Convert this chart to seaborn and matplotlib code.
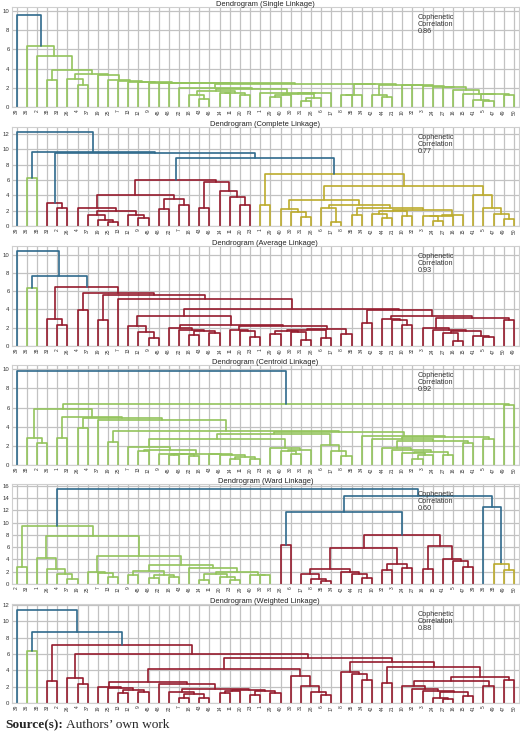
import numpy as np
import pandas as pd
import matplotlib
matplotlib.use("Agg")
import matplotlib.pyplot as plt
import seaborn as sns

titles = ["Dendrogram (Single Linkage)", "Dendrogram (Complete Linkage)",
          "Dendrogram (Average Linkage)", "Dendrogram (Centroid Linkage)",
          "Dendrogram (Ward Linkage)", "Dendrogram (Weighted Linkage)"]
coph = ["0.86", "0.77", "0.93", "0.92", "0.60", "0.88"]
ytick_max = [10, 12, 10, 10, 16, 12]
ylim_top = [10.4, 12.9, 10.95, 10.45, 16.3, 12.1]

# merge height between neighbouring leaves (left to right) for each dendrogram
gaps_single = [9.6, 6.3, 5.3, 2.8, 3.8, 2.9, 2.3, 3.4, 3.3, 2.8,
               2.7, 2.6, 2.55, 2.52, 2.5, 2.48, 2.0, 1.3, 0.85, 1.7,
               1.45, 1.5, 1.25, 1.85, 1.5, 1.0, 1.2, 1.4, 0.65, 0.9,
               1.5, 2.4, 1.25, 1.3, 2.35, 1.25, 1.0, 2.3, 2.3, 2.25,
               2.2, 2.1, 2.05, 1.75, 1.35, 0.7, 0.6, 1.35, 1.2]
gaps_complete = [12.2, 6.3, 9.6, 3.0, 2.3, 9.55, 2.3, 1.4, 0.8, 0.55,
                 2.0, 1.45, 1.0, 4.1, 2.2, 3.5, 2.8, 6.0, 2.4, 5.7,
                 4.5, 3.8, 2.8, 8.9, 2.8, 6.8, 2.2, 1.8, 1.2, 3.4,
                 2.3, 0.5, 2.7, 1.4, 2.4, 1.5, 1.0, 2.0, 1.3, 2.1,
                 1.3, 0.7, 1.35, 1.4, 5.2, 4.1, 2.3, 1.6, 0.85]
gaps_average = [10.4, 6.3, 7.7, 3.0, 2.3, 6.5, 3.9, 5.8, 2.8, 5.6,
                5.1, 2.2, 1.5, 0.85, 3.3, 2.0, 1.8, 1.2, 1.6, 1.4,
                2.3, 1.8, 1.6, 1.0, 2.2, 1.3, 1.6, 1.55, 0.65, 1.8,
                0.85, 1.9, 1.3, 4.1, 2.5, 3.9, 3.0, 2.8, 2.3, 3.3,
                2.0, 1.8, 1.4, 0.6, 1.6, 1.1, 1.0, 3.1, 2.8]
gaps_centroid = [9.8, 2.8, 2.3, 5.8, 2.8, 5.0, 3.9, 4.9, 4.7, 2.4,
                 3.6, 1.9, 1.5, 1.55, 1.15, 1.05, 1.1, 0.95, 1.2, 1.1,
                 1.05, 0.6, 0.85, 0.6, 2.7, 1.8, 1.5, 1.2, 1.6, 3.2,
                 2.1, 1.5, 0.9, 3.5, 3.0, 2.75, 1.8, 1.6, 1.3, 0.6,
                 1.05, 1.4, 1.0, 2.5, 2.3, 2.9, 2.7, 6.4, 6.3]
gaps_ward = [2.7, 9.5, 4.3, 2.5, 1.7, 0.8, 7.9, 2.0, 1.8, 1.2,
             4.5, 1.4, 2.2, 0.9, 1.5, 1.2, 3.1, 2.6, 0.6, 1.6,
             1.1, 0.6, 2.0, 1.5, 1.4, 15.5, 6.3, 11.8, 1.6, 0.8,
             0.5, 2.4, 1.9, 1.6, 0.9, 5.8, 2.3, 3.3, 2.6, 8.0,
             2.4, 6.2, 4.0, 3.7, 2.7, 14.4, 12.5, 3.2, 2.3]
gaps_weighted = [11.4, 6.3, 8.7, 2.7, 7.1, 3.0, 2.3, 6.0, 2.0, 1.8,
                 1.2, 1.6, 1.4, 2.6, 2.3, 1.3, 0.6, 1.1, 0.6, 1.7,
                 1.2, 1.5, 1.55, 1.0, 1.45, 1.2, 4.2, 3.3, 2.1, 1.4,
                 1.0, 5.5, 3.8, 3.5, 2.8, 5.0, 2.4, 4.35, 2.1, 1.7,
                 1.5, 0.6, 0.55, 1.3, 0.9, 2.7, 2.1, 3.15, 2.8]

labels_single = "39 36 2 38 33 26 4 37 19 25 7 13 12 9 45 48 22 18 43 46 14 11 20 23 1 29 40 30 31 28 6 17 8 35 34 42 44 21 10 32 3 24 27 16 15 41 5 47 49 50".split()
labels_complete = "39 36 38 33 2 26 4 37 19 25 13 12 9 45 48 22 7 18 43 46 14 11 20 23 1 29 40 30 31 28 6 17 8 35 34 42 44 21 10 32 3 24 27 16 15 41 5 47 49 50".split()
labels_average = "39 36 38 33 2 26 4 37 19 25 7 13 12 9 45 48 22 18 43 46 14 11 20 23 1 29 40 30 31 28 6 17 8 35 34 42 44 21 10 32 3 24 27 16 15 41 5 47 50 49".split()
labels_centroid = "39 38 2 36 1 33 26 4 37 19 25 7 13 12 9 45 48 22 18 43 46 14 11 20 23 29 40 30 31 28 6 17 8 35 34 42 44 21 10 32 3 24 27 16 15 41 5 47 49 50".split()
labels_ward = "2 33 1 26 4 37 19 25 7 13 12 9 45 48 22 18 43 46 14 11 20 23 29 40 30 31 28 6 17 8 35 34 42 44 21 10 32 3 24 27 16 15 41 5 47 39 36 38 49 50".split()
labels_weighted = "39 36 38 33 2 26 4 37 19 25 13 12 9 45 48 22 7 18 43 46 14 11 20 23 1 29 40 30 31 28 6 17 8 35 34 42 44 21 10 32 3 24 27 16 15 41 5 49 47 50".split()

all_gaps = [gaps_single, gaps_complete, gaps_average, gaps_centroid, gaps_ward, gaps_weighted]
all_labels = [labels_single, labels_complete, labels_average, labels_centroid, labels_ward, labels_weighted]

BLUE = "#2f6a8c"
GREEN = "#93c45c"
RED = "#951b2d"
OLIVE = "#bcab2c"
cluster_palette = [GREEN, RED, RED, OLIVE]


def dendro_links(gaps):
    n = len(gaps) + 1
    links = []

    def rec(lo, hi):
        if lo == hi:
            return 5 + 10 * lo, 0.0, None
        k = lo + int(np.argmax(gaps[lo:hi]))
        h = gaps[k]
        xl, hl, il = rec(lo, k)
        xr, hr, ir = rec(k + 1, hi)
        links.append(dict(xl=xl, hl=hl, xr=xr, hr=hr, h=h, l=il, r=ir))
        return (xl + xr) / 2, h, len(links) - 1

    _, _, root = rec(0, n - 1)
    thr = 0.7 * max(gaps)
    counter = [0]

    def colour(i, cur):
        node = links[i]
        if cur is None and node["h"] < thr:
            cur = cluster_palette[counter[0] % len(cluster_palette)]
            counter[0] += 1
        node["c"] = cur if cur is not None else BLUE
        for ch in (node["l"], node["r"]):
            if ch is not None:
                colour(ch, cur)

    colour(root, None)
    rows = []
    for uid, lk in enumerate(links):
        pts = [(lk["xl"], lk["hl"]), (lk["xl"], lk["h"]), (lk["xr"], lk["h"]), (lk["xr"], lk["hr"])]
        for j, (x, y) in enumerate(pts):
            rows.append(dict(x=x, y=y, unit=uid, order=j, color=lk["c"]))
    return pd.DataFrame(rows), n


sns.set_theme(style="whitegrid")
plt.rcParams["font.family"] = ["Liberation Sans", "DejaVu Sans"]

W, H = 520, 734
fig = plt.figure(figsize=(W / 100, H / 100), dpi=100)
panel_px = [(7, 107), (127, 226), (246, 346), (365, 465), (484, 584), (604, 703)]
left_px, right_px = 11.6, 519

for p in range(6):
    top, bot = panel_px[p]
    ax = fig.add_axes([left_px / W, 1 - bot / H, (right_px - left_px) / W, (bot - top) / H])
    df, n = dendro_links(all_gaps[p])
    pal = {c: c for c in df["color"].unique()}
    sns.lineplot(data=df, x="x", y="y", units="unit", hue="color", palette=pal,
                 estimator=None, sort=False, legend=False, lw=1.2, ax=ax)
    ax.set_xlim(0, 10 * n)
    ax.set_ylim(0, ylim_top[p])
    ax.set_xticks(5 + 10 * np.arange(n))
    ax.set_xticklabels(all_labels[p], rotation=90, fontsize=3.5, color="#333333")
    ax.set_yticks(np.arange(0, ytick_max[p] + 1, 2))
    ax.set_yticklabels([str(v) for v in range(0, ytick_max[p] + 1, 2)], fontsize=4.3, color="#333333")
    ax.tick_params(axis="both", length=0, pad=1.5)
    ax.set_xlabel("")
    ax.set_ylabel("")
    ax.grid(True, color="#c2c2c2", lw=0.9)
    for s in ax.spines.values():
        s.set_color("#cfcfcf")
        s.set_linewidth(0.8)
    ax.set_title(titles[p], fontsize=5.4, pad=0.6, color="#222222")
    ax.text(0.80, 0.93, "Cophenetic\nCorrelation\n" + coph[p], transform=ax.transAxes,
            ha="left", va="top", fontsize=5.2, color="#333333", linespacing=1.0)

t1 = fig.text(5 / W, 1 - 728 / H, "Source(s):", fontsize=9.6, fontweight="bold",
              family="Liberation Serif", ha="left", va="baseline")
fig.canvas.draw()
bb = t1.get_window_extent()
fig.text((bb.x1 + 3) / W, 1 - 728 / H, "Authors\u2019 own work", fontsize=9.6,
         family="Liberation Serif", ha="left", va="baseline")

fig.savefig("out.png", dpi=100)
